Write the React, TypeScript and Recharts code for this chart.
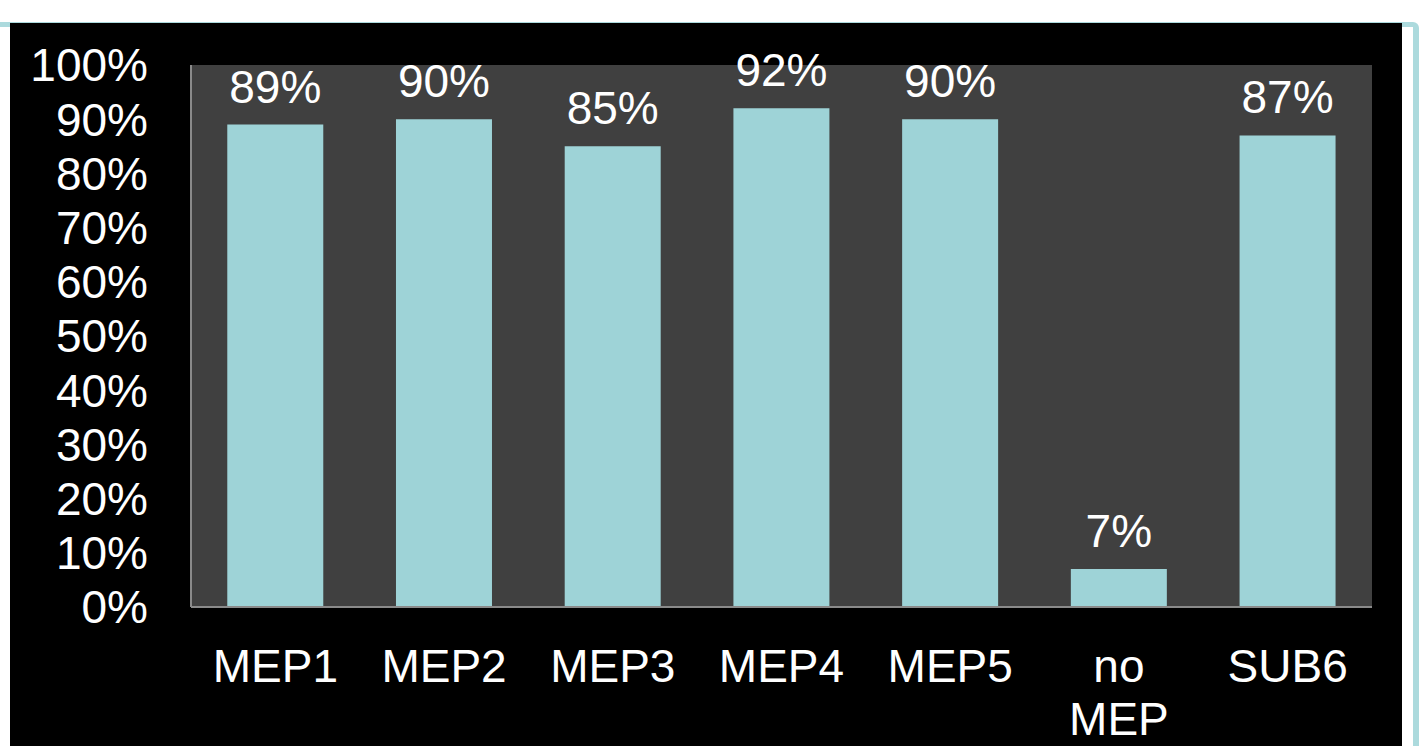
import React from 'react';
import { BarChart, Bar, XAxis, YAxis, CartesianGrid, LabelList } from 'recharts';

const categories = ['MEP1', 'MEP2', 'MEP3', 'MEP4', 'MEP5', 'no MEP', 'SUB6'];
const values = [89, 90, 85, 92, 90, 7, 87];
const yTicks = [0, 10, 20, 30, 40, 50, 60, 70, 80, 90, 100];

const data = categories.map((c, i) => ({ name: c, value: values[i] }));

const FONT = '"Liberation Sans", Arial, Helvetica, sans-serif';
const FS = 46;

const XTick = (props: any) => {
  const { x, y, payload } = props;
  const words: string[] = String(payload.value).split(' ');
  return (
    <text x={x} y={y} textAnchor="middle" fill="#ffffff" fontFamily={FONT} fontSize={FS}>
      {words.map((w, i) => (
        <tspan key={i} x={x} dy={i === 0 ? 75 : 53}>
          {w}
        </tspan>
      ))}
    </text>
  );
};

export default function App() {
  return (
    <div
      style={{
        position: 'absolute',
        left: 0,
        top: 0,
        width: 1421,
        height: 746,
        background: '#ffffff',
        overflow: 'hidden',
      }}
    >
      <div
        style={{
          position: 'absolute',
          left: 0,
          top: 22,
          width: 1419,
          height: 800,
          boxSizing: 'border-box',
          borderTop: '5px solid #acdadd',
          borderRight: '6px solid #acdadd',
          borderTopRightRadius: 6,
        }}
      />
      <div
        style={{
          position: 'absolute',
          left: 10,
          top: 23,
          width: 1392,
          height: 723,
          background: '#000000',
        }}
      >
        <BarChart
          width={1392}
          height={723}
          data={data}
          margin={{ top: 42, right: 30, left: 0, bottom: 0 }}
          barCategoryGap="21.5%"
        >
          <CartesianGrid fill="#404040" horizontal={false} vertical={false} stroke="none" />
          <XAxis
            dataKey="name"
            height={139}
            interval={0}
            axisLine={{ stroke: '#8a8a8a', strokeWidth: 2 }}
            tickLine={false}
            tickSize={0}
            tickMargin={0}
            tick={<XTick />}
          />
          <YAxis
            width={181}
            domain={[0, 100]}
            ticks={yTicks}
            interval={0}
            axisLine={{ stroke: '#8a8a8a', strokeWidth: 2 }}
            tickLine={false}
            tickSize={6}
            tickMargin={37}
            tickFormatter={(v: number) => `${v}%`}
            tick={{ fill: '#ffffff', fontSize: FS, fontFamily: FONT }}
          />
          <Bar dataKey="value" fill="#9ed3d7" isAnimationActive={false}>
            <LabelList
              dataKey="value"
              position="top"
              offset={22}
              formatter={(v: number) => `${v}%`}
              fill="#ffffff"
              fontSize={FS}
              fontFamily={FONT}
            />
          </Bar>
        </BarChart>
      </div>
    </div>
  );
}
